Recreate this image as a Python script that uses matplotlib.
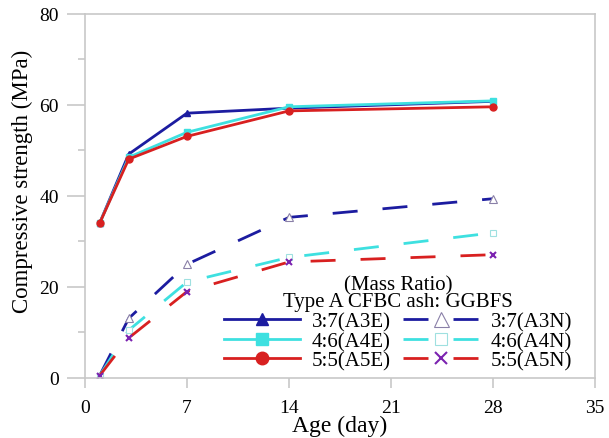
import matplotlib.pyplot as plt
from matplotlib.ticker import MultipleLocator

plt.rcParams['font.family'] = ['Liberation Serif', 'DejaVu Serif']

# curing age (day)
age = [1, 3, 7, 14, 28]

# compressive strength (MPa)
a3e = [34.0, 49.2, 58.2, 59.3, 60.8]
a4e = [34.0, 48.5, 54.0, 59.6, 60.9]
a5e = [34.0, 48.1, 53.1, 58.7, 59.6]
a3n = [0.5, 13.1, 25.0, 35.3, 39.4]
a4n = [0.5, 10.5, 21.1, 26.5, 31.9]
a5n = [0.5, 8.8, 19.0, 25.5, 27.1]

labels_e = ['3:7(A3E)', '4:6(A4E)', '5:5(A5E)']
labels_n = ['3:7(A3N)', '4:6(A4N)', '5:5(A5N)']

blue = '#1c1ca0'
cyan = '#3ee0e0'
red = '#d82020'
purple = '#7b22b0'

fig = plt.figure(figsize=(6.09, 4.39), dpi=100)
ax = fig.add_axes([0.1396, 0.1367, 0.8374, 0.8292])

# blended series (solid)
h1, = ax.plot(age, a3e, '-', color=blue, lw=2, marker='^', ms=5, label=labels_e[0])
h2, = ax.plot(age, a4e, '-', color=cyan, lw=2, marker='s', ms=5, label=labels_e[1])
h3, = ax.plot(age, a5e, '-', color=red, lw=2, marker='o', ms=5, label=labels_e[2])

# N series (long dashes)
dash = (0, (9, 9))
h4, = ax.plot(age, a3n, color=blue, lw=2, ls=dash, marker='^', ms=6,
              mfc='white', mec='#8a80a8', mew=0.8, label=labels_n[0])
h5, = ax.plot(age, a4n, color=cyan, lw=2, ls=dash, marker='s', ms=5,
              mfc='white', mec='#9fe0e0', mew=0.8, label=labels_n[1])
h6, = ax.plot(age, a5n, color=red, lw=2, ls=dash, marker='x', ms=5,
              mec=purple, mew=1.5, label=labels_n[2])

ax.set_xlim(0, 35)
ax.set_ylim(0, 80)
ax.xaxis.set_major_locator(MultipleLocator(7))
ax.yaxis.set_major_locator(MultipleLocator(20))
ax.yaxis.set_minor_locator(MultipleLocator(10))

for s in ax.spines.values():
    s.set_color('#c8c8c8')
    s.set_linewidth(1.2)
ax.tick_params(which='major', direction='out', width=1.2,
               color='#c8c8c8', labelsize=14)
ax.tick_params(axis='y', which='major', length=13, pad=6)
ax.tick_params(axis='x', which='major', length=7, pad=8)
ax.tick_params(which='minor', direction='out', length=5, width=1.2, color='#c8c8c8')

ax.set_xlabel('Age (day)', fontsize=17, labelpad=-1)
ax.set_ylabel('Compressive strength (MPa)', fontsize=16.5)
ax.yaxis.set_label_coords(-0.102, 0.544)

leg = ax.legend(handles=[h1, h2, h3, h4, h5, h6], ncol=2,
                title='(Mass Ratio)\nType A CFBC ash: GGBFS',
                loc='lower right', bbox_to_anchor=(0.955, 0.02),
                borderpad=0, borderaxespad=0,
                frameon=False, fontsize=15, title_fontsize=15,
                handlelength=3.65, handletextpad=0.55, columnspacing=0.6,
                labelspacing=0.0, markerscale=1.8)
leg.get_title().set_linespacing(0.8)
leg.get_title().set_multialignment('center')
leg._legend_box.sep = 1

fig.savefig('out.png', dpi=100)
